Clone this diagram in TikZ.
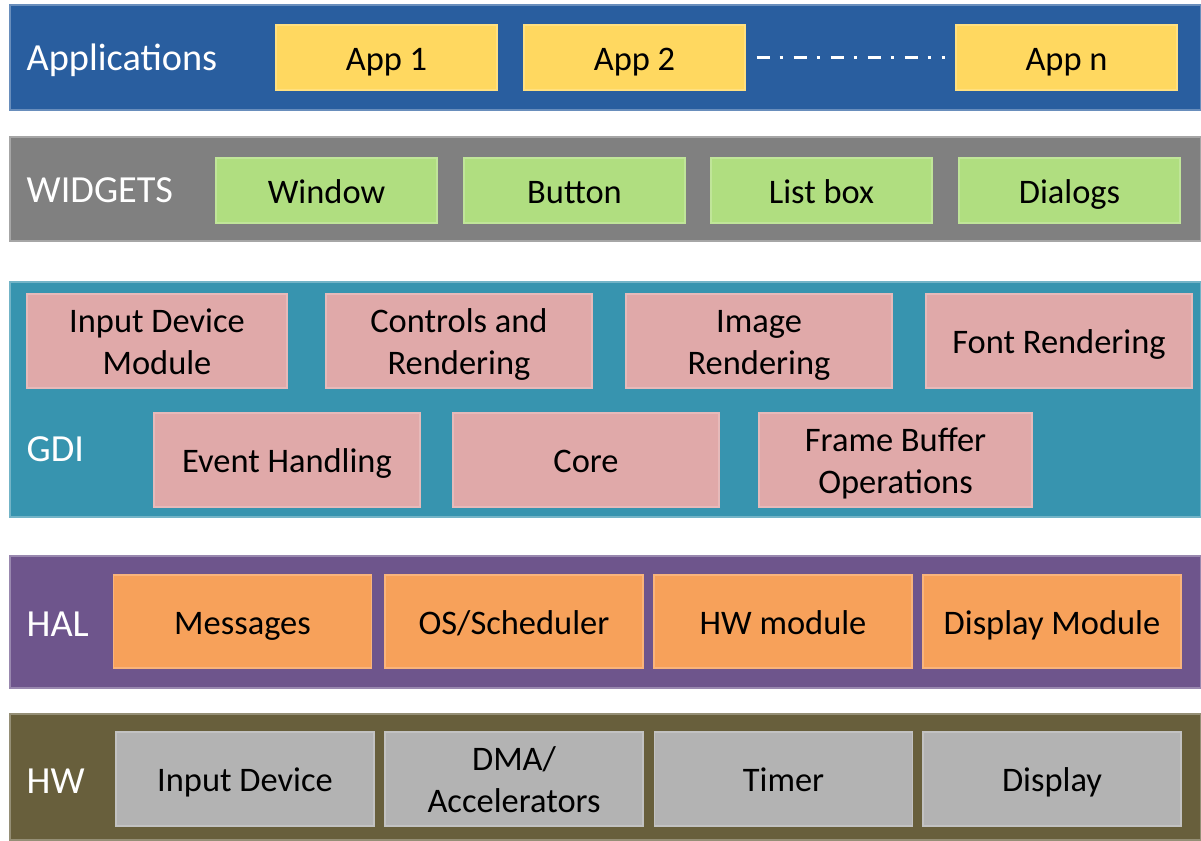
\documentclass[tikz,border=0pt]{standalone}
\usepackage{fontspec}
\setmainfont{Carlito}
\usepackage{tikz}
\usetikzlibrary{positioning}

\definecolor{appband}{RGB}{41,94,159}
\definecolor{appfill}{RGB}{255,216,96}
\definecolor{widgetband}{RGB}{128,128,128}
\definecolor{widgetfill}{RGB}{176,222,128}
\definecolor{gdiband}{RGB}{55,148,175}
\definecolor{gdifill}{RGB}{224,169,169}
\definecolor{halband}{RGB}{110,85,140}
\definecolor{halfill}{RGB}{247,161,90}
\definecolor{hwband}{RGB}{104,95,60}
\definecolor{hwfill}{RGB}{179,179,179}

\tikzset{
  band/.style={inner sep=0pt, line width=0.4pt},
  layername/.style={anchor=base west, text=white, inner sep=0pt, font=\fontsize{10.9}{13}\selectfont},
  block/.style={inner sep=0pt, align=center, line width=0.3pt, text height=7.6pt, text depth=0.4pt,
    font=\fontsize{9.8}{11.9}\selectfont},
  twolines/.style={text height=19.5pt},
  appbox/.style={block, fill=appfill, draw=appfill!80!white, minimum width=2.21cm, minimum height=0.65cm},
  widgetbox/.style={block, fill=widgetfill, draw=widgetfill!80!white, minimum width=2.21cm, minimum height=0.65cm},
  gdibox/.style={block, fill=gdifill, draw=gdifill!80!white, minimum width=2.66cm, minimum height=0.94cm},
  halbox/.style={block, fill=halfill, draw=halfill!80!white, minimum width=2.58cm, minimum height=0.93cm},
  hwbox/.style={block, fill=hwfill, draw=hwfill!80!white, minimum width=2.58cm, minimum height=0.94cm},
}

\begin{document}
\begin{tikzpicture}
  \useasboundingbox (0,0) rectangle (12.01,8.4);

  % layer bands
  \fill[band, appband, draw=appband!70!white] (0.10,8.35) rectangle (12.01,7.30);
  \fill[band, widgetband, draw=widgetband!70!white] (0.10,7.03) rectangle (12.01,5.99);
  \fill[band, gdiband, draw=gdiband!70!white] (0.10,5.58) rectangle (12.01,3.23);
  \fill[band, halband, draw=halband!70!white] (0.10,2.84) rectangle (12.01,1.52);
  \fill[band, hwband, draw=hwband!70!white] (0.10,1.26) rectangle (12.01,0.00);

  \node[layername] (applabel) at (0.26,7.69) {Applications};
  \node[layername] (widgetlabel) at (0.26,6.37) {WIDGETS};
  \node[layername] (gdilabel) at (0.26,3.78) {GDI};
  \node[layername] (hallabel) at (0.26,2.04) {HAL};
  \node[layername] (hwlabel) at (0.26,0.47) {HW};

  % applications
  \node[appbox] (app1) at (3.865,7.825) {App 1};
  \node[appbox] (app2) at (6.345,7.825) {App 2};
  \node[appbox] (appn) at (10.665,7.825) {App n};
  \draw[white, line width=1.1pt, dash pattern=on 0.13cm off 0.10cm on 0.03cm off 0.11cm]
    ([xshift=0.11cm]app2.east) -- ([xshift=-0.10cm]appn.west);

  % widgets
  \node[widgetbox] (window) at (3.265,6.495) {Window};
  \node[widgetbox] (button) at (5.745,6.495) {Button};
  \node[widgetbox] (listbox) at (8.215,6.495) {List box};
  \node[widgetbox] (dialogs) at (10.695,6.495) {Dialogs};

  % gdi
  \node[gdibox, twolines, minimum width=2.60cm] (inputmod) at (1.57,4.99) {Input Device\\Module};
  \node[gdibox, twolines] (controls) at (4.59,4.99) {Controls and\\Rendering};
  \node[gdibox, twolines] (image) at (7.59,4.99) {Image\\Rendering};
  \node[gdibox] (font) at (10.59,4.99) {Font Rendering};
  \node[gdibox] (events) at (2.87,3.80) {Event Handling};
  \node[gdibox] (core) at (5.86,3.80) {Core};
  \node[gdibox, twolines, minimum width=2.73cm] (framebuf) at (8.955,3.80) {Frame Buffer\\Operations};

  % hal
  \node[halbox] (messages) at (2.425,2.185) {Messages};
  \node[halbox] (sched) at (5.14,2.185) {OS/Scheduler};
  \node[halbox] (hwmod) at (7.83,2.185) {HW module};
  \node[halbox] (dispmod) at (10.52,2.185) {Display Module};

  % hardware
  \node[hwbox] (inputdev) at (2.45,0.61) {Input Device};
  \node[hwbox, twolines] (dma) at (5.14,0.61) {DMA/\\Accelerators};
  \node[hwbox] (timer) at (7.835,0.61) {Timer};
  \node[hwbox] (display) at (10.52,0.61) {Display};
\end{tikzpicture}
\end{document}
